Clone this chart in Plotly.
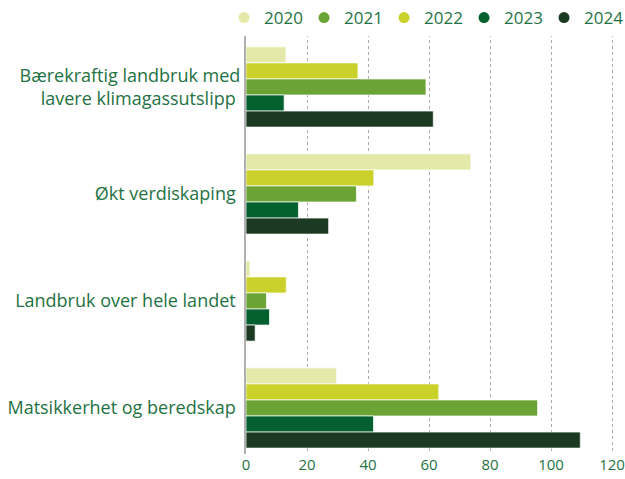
import plotly.graph_objects as go

categories = ["Bærekraftig landbruk med<br>lavere klimagassutslipp",
              "Økt verdiskaping",
              "Landbruk over hele landet",
              "Matsikkerhet og beredskap"]
years = ["2020", "2021", "2022", "2023", "2024"]
v2020 = [13.1, 73.7, 1.3, 29.7]
v2021 = [59.0, 36.2, 6.7, 95.6]
v2022 = [36.7, 41.9, 13.2, 63.2]
v2023 = [12.5, 17.2, 7.7, 41.8]
v2024 = [61.4, 27.1, 3.0, 109.6]
x_ticks = [0, 20, 40, 60, 80, 100, 120]

values = {"2020": v2020, "2021": v2021, "2022": v2022, "2023": v2023, "2024": v2024}
colors = {"2020": "#e4e8a8", "2021": "#6ba334", "2022": "#c9d12a",
          "2023": "#05602f", "2024": "#1b3a21"}
text_green = "#1f7243"

# bars drawn top-to-bottom in this order inside each group
bar_order = ["2020", "2022", "2021", "2023", "2024"]

fig = go.Figure()
for yr in bar_order:
    fig.add_trace(go.Bar(
        y=categories, x=values[yr], orientation="h", name=yr,
        marker=dict(color=colors[yr], line=dict(color="rgba(255,255,255,0.7)", width=1)),
        showlegend=False,
    ))

# legend with round markers
for i, yr in enumerate(years):
    fig.add_trace(go.Scatter(
        x=[None], y=[None], mode="markers", name=yr,
        marker=dict(color=colors[yr], size=11, symbol="circle"),
        legendrank=i + 1,
    ))

fig.update_layout(
    template="none",
    width=625, height=479,
    margin=dict(l=246, r=0, t=34, b=25, autoexpand=False),
    barmode="group",
    bargap=0.25,
    bargroupgap=0,
    plot_bgcolor="white",
    paper_bgcolor="white",
    font=dict(family="Open Sans", size=18, color=text_green),
    legend=dict(orientation="h",
                x=-0.058, xanchor="left", y=1.038, yanchor="middle",
                entrywidth=35, entrywidthmode="pixels",
                font=dict(size=17, color=text_green),
                itemwidth=30, tracegroupgap=0),
)
fig.update_xaxes(
    range=[0, 124.26], tickvals=x_ticks, showgrid=True,
    gridcolor="#aaaaaa", griddash="dot", gridwidth=1,
    zeroline=False, showline=False, ticks="", automargin=False,
    ticklabeloverflow="allow",
    tickfont=dict(size=15, color=text_green),
)
fig.update_yaxes(
    range=[3.430, -0.495], showgrid=False, zeroline=False,
    showline=True, linecolor="#b0b0b0", linewidth=2, ticks="",
    ticksuffix=" ", automargin=False,
    tickfont=dict(size=18, color=text_green),
)

# page body has a default 8px margin; remove it so the figure sits at the corner
fig.write_html("out.html", config={"displayModeBar": False},
               post_script="document.body.style.margin='0';")
